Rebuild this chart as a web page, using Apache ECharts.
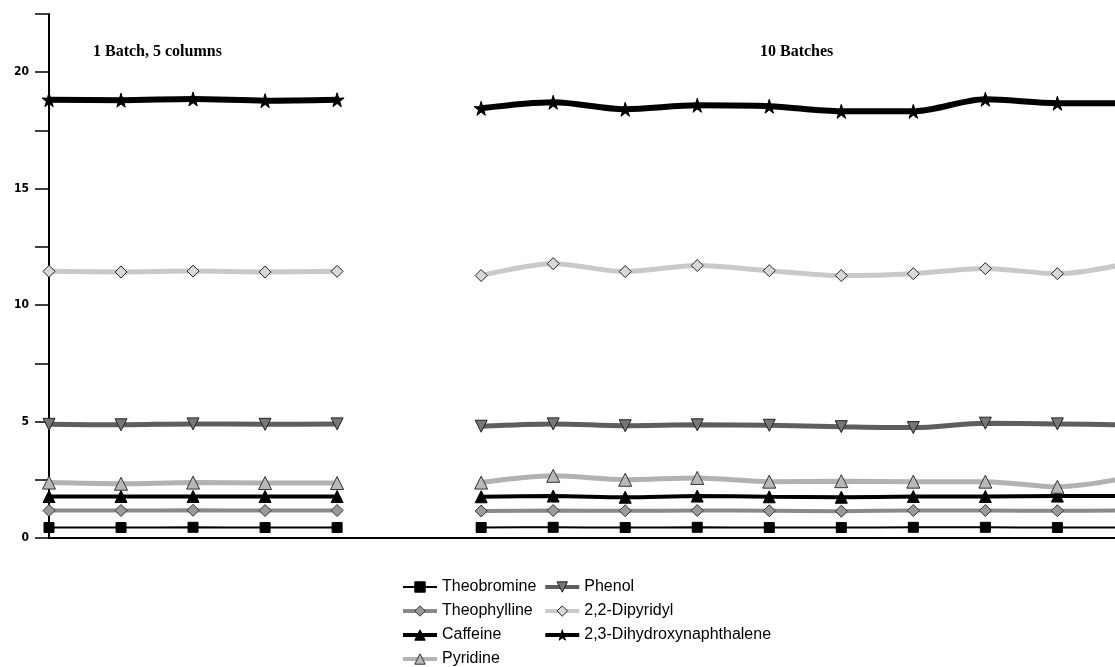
<!DOCTYPE html>
<html><head><meta charset="utf-8">
<script src="https://cdn.jsdelivr.net/npm/echarts@6/dist/echarts.min.js"></script>
<style>html,body{margin:0;padding:0;background:#fff}#c{width:1115px;height:667px}</style>
</head><body><div id="c"></div>
<script>
// Run positions (x index): left group = 1 batch / 5 columns, right group = 10 batches
const leftRuns  = [0, 1, 2, 3, 4];
const rightRuns = [6, 7, 8, 9, 10, 11, 12, 13, 14, 15];
const yTicks = [0, 5, 10, 15, 20];

const names = ['Theobromine','Theophylline','Caffeine','Pyridine','Phenol','2,2-Dipyridyl','2,3-Dihydroxynaphthalene'];

const theobromineL  = [0.45, 0.45, 0.46, 0.45, 0.45];
const theobromineR  = [0.45, 0.46, 0.45, 0.46, 0.45, 0.45, 0.46, 0.46, 0.45, 0.45];
const theophyllineL = [1.18, 1.18, 1.19, 1.18, 1.18];
const theophyllineR = [1.16, 1.18, 1.17, 1.18, 1.17, 1.15, 1.18, 1.18, 1.17, 1.18];
const caffeineL     = [1.78, 1.78, 1.78, 1.78, 1.78];
const caffeineR     = [1.77, 1.80, 1.75, 1.80, 1.77, 1.75, 1.78, 1.78, 1.80, 1.80];
const pyridineL     = [2.38, 2.33, 2.38, 2.36, 2.36];
const pyridineR     = [2.38, 2.67, 2.50, 2.58, 2.42, 2.44, 2.42, 2.42, 2.20, 2.60];
const phenolL       = [4.88, 4.86, 4.90, 4.88, 4.90];
const phenolR       = [4.80, 4.90, 4.82, 4.86, 4.84, 4.78, 4.74, 4.93, 4.90, 4.85];
const dipyridylL    = [11.45, 11.42, 11.46, 11.42, 11.45];
const dipyridylR    = [11.27, 11.78, 11.44, 11.70, 11.48, 11.27, 11.35, 11.57, 11.35, 11.80];
const dhnL          = [18.82, 18.80, 18.85, 18.78, 18.82];
const dhnR          = [18.45, 18.71, 18.41, 18.58, 18.54, 18.32, 18.32, 18.84, 18.67, 18.67];

const STAR = 'path://M50,0 L61,35 L98,35 L68,57 L79,91 L50,70 L21,91 L32,57 L2,35 L39,35 Z';

function join(l, r) {
  const d = leftRuns.map((x, i) => [x, l[i]]);
  d.push([5, '-']);
  return d.concat(rightRuns.map((x, i) => [x, r[i]]));
}

const styles = [
  {l: theobromineL,  r: theobromineR,  lc: '#000', lw: 2, sym: 'rect', ss: 10, fc: '#000', bc: '#000'},
  {l: theophyllineL, r: theophyllineR, lc: '#8a8a8a', lw: 4, sym: 'diamond', ss: 12, fc: '#9a9a9a', bc: '#333'},
  {l: caffeineL,     r: caffeineR,     lc: '#000', lw: 4, sym: 'triangle', ss: 12, fc: '#000', bc: '#000'},
  {l: pyridineL,     r: pyridineR,     lc: '#b2b2b2', lw: 5, sym: 'triangle', ss: 13, fc: '#b8b8b8', bc: '#333'},
  {l: phenolL,       r: phenolR,       lc: '#5e5e5e', lw: 5, sym: 'triangle', ss: 12, fc: '#777', bc: '#222', rot: 180},
  {l: dipyridylL,    r: dipyridylR,    lc: '#c9c9c9', lw: 5, sym: 'diamond', ss: 12, fc: '#d8d8d8', bc: '#222'},
  {l: dhnL,          r: dhnR,          lc: '#000', lw: 6, sym: STAR, ss: 14, fc: '#000', bc: '#000'}
];

const series = styles.map((s, i) => ({
  name: names[i],
  type: 'line',
  data: join(s.l, s.r),
  smooth: 0.3,
  connectNulls: false,
  symbol: s.sym,
  symbolSize: s.ss,
  symbolRotate: s.rot || 0,
  showAllSymbol: true,
  lineStyle: {color: s.lc, width: s.lw},
  itemStyle: {color: s.fc, borderColor: s.bc, borderWidth: 1},
  emphasis: {disabled: true},
  animation: false,
  clip: true
}));

const legendData = names.map((n, i) => ({
  name: n,
  lineStyle: {width: Math.min(styles[i].lw, 4), color: styles[i].lc},
  itemStyle: {color: styles[i].fc, borderColor: styles[i].bc, borderWidth: 1}
}));

const chart = echarts.init(document.getElementById('c'), null, {renderer: 'canvas'});
chart.setOption({
  animation: false,
  backgroundColor: '#fff',
  grid: {left: 49, right: 0, top: 14, bottom: 129, containLabel: false},
  xAxis: [
    {type: 'value', min: 0, max: 14.8, axisLine: {show: true, onZero: false, lineStyle: {color: '#000', width: 2}},
     axisTick: {show: false}, axisLabel: {show: false}, splitLine: {show: false}},
    {type: 'value', position: 'top', min: 0, max: 14.8, axisLine: {show: true, lineStyle: {color: '#000', width: 1.5}},
     axisTick: {show: false}, axisLabel: {show: false}, splitLine: {show: false}}
  ],
  yAxis: {
    type: 'value', min: 0, max: 22.5, interval: 2.5,
    axisLine: {show: true, lineStyle: {color: '#000', width: 2}},
    axisTick: {show: true, length: 14, lineStyle: {color: '#000', width: 1.5}},
    axisLabel: {margin: 20, color: '#000', fontWeight: 'bold', fontSize: 12, fontFamily: 'DejaVu Sans Condensed',
      formatter: v => yTicks.includes(v) ? String(v) : ''},
    splitLine: {show: false}
  },
  legend: {
    data: legendData,
    orient: 'vertical',
    left: 396, top: 574, height: 94,
    itemWidth: 34, itemHeight: 13, itemGap: 8,
    textStyle: {fontFamily: 'Liberation Sans', fontSize: 16, color: '#000'},
    selectedMode: false
  },
  graphic: [
    {type: 'text', left: 93, top: 44, style: {text: '1 Batch, 5 columns', font: 'bold 16px "Liberation Serif"', fill: '#000'}},
    {type: 'text', left: 760, top: 44, style: {text: '10 Batches', font: 'bold 16px "Liberation Serif"', fill: '#000'}}
  ],
  series: series
});
</script></body></html>
